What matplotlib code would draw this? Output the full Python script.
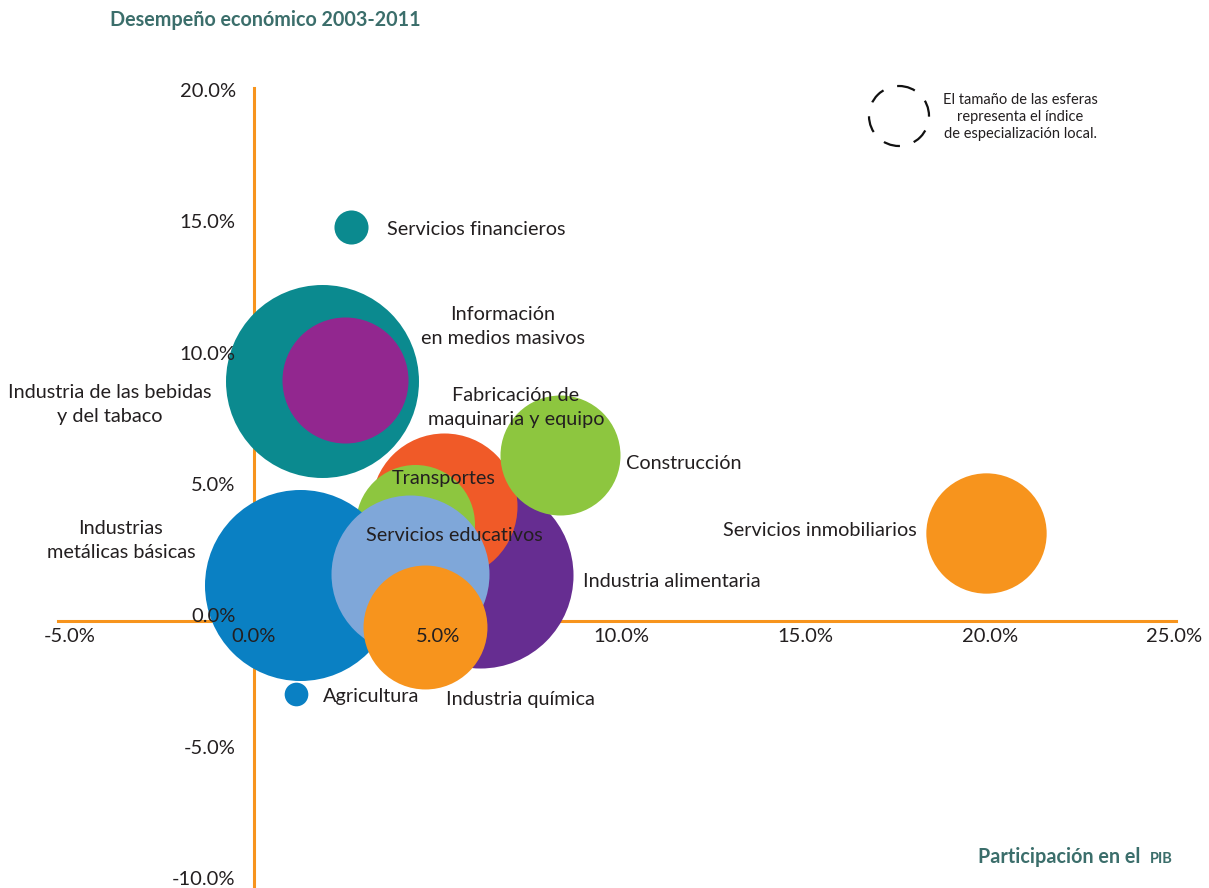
#!/usr/bin/env python3
"""
Bubble chart: desempeño económico 2003-2011 vs participación en el PIB.

Writes:
    out.png
"""

import matplotlib
matplotlib.use("Agg")
import matplotlib.pyplot as plt
from matplotlib.patches import Circle
from matplotlib.transforms import ScaledTranslation


sectores = [
    "Industria de las bebidas\ny del tabaco",
    "Información\nen medios masivos",
    "Servicios financieros",
    "Industria alimentaria",
    "Fabricación de\nmaquinaria y equipo",
    "Construcción",
    "Transportes",
    "Industrias\nmetálicas básicas",
    "Servicios educativos",
    "Industria química",
    "Agricultura",
    "Servicios inmobiliarios",
]

# participación en el PIB (%)
participacion = [1.85, 2.47, 2.65, 6.14, 5.16, 8.33, 4.38, 1.26, 4.25, 4.66, 1.15, 19.89]
# desempeño económico 2003-2011 (%)
desempeno = [9.01, 9.06, 14.79, 1.72, 4.31, 6.22, 3.65, 1.37, 1.77, -0.21, -2.73, 3.30]
# índice de especialización local (tamaño de la esfera)
indice = [9.31, 3.97, 0.29, 8.65, 5.33, 3.60, 3.54, 9.12, 6.24, 3.84, 0.14, 3.62]

colores = [
    "#0B8A8F", "#92278F", "#0B8A8F", "#662D91", "#F05A28", "#8DC63F",
    "#8DC63F", "#0A80C3", "#7FA7D9", "#F7941D", "#0A80C3", "#F7941D",
]

x_ticks = [-5, 0, 5, 10, 15, 20, 25]
y_ticks = [-10, -5, 0, 5, 10, 15, 20]

FONT = "Lato"
TEXT_COLOR = "#231F20"
TITLE_COLOR = "#3B6E6B"
AXIS_COLOR = "#F7941D"

DPI = 100
SIZE_SCALE = 2074  # points^2 per unit of índice


def main() -> None:
    plt.rcParams["font.family"] = [FONT, "DejaVu Sans"]

    fig = plt.figure(figsize=(12.09, 8.88), dpi=DPI)
    ax = fig.add_axes([58 / 1209, 0.0, 1118 / 1209, 800 / 888])
    ax.set_xlim(-5.32, 25.06)
    ax.set_ylim(-9.96, 20.0)

    sizes = [v * SIZE_SCALE for v in indice]
    for i, (x, y, s, c) in enumerate(zip(participacion, desempeno, sizes, colores)):
        ax.scatter([x], [y], s=s, color=c, linewidths=0, zorder=3 + i * 0.01)

    # draw order: educativos and química sit on top of the cluster
    order_fix = {"Servicios educativos": 3.5, "Industria química": 3.6}
    for coll, name in zip(ax.collections, sectores):
        if name in order_fix:
            coll.set_zorder(order_fix[name])

    for side in ["top", "right"]:
        ax.spines[side].set_visible(False)
    ax.spines["left"].set_position(("data", 0))
    ax.spines["bottom"].set_position(("data", 0))
    for side in ["left", "bottom"]:
        ax.spines[side].set_color(AXIS_COLOR)
        ax.spines[side].set_linewidth(2.2)
        ax.spines[side].set_zorder(0.5)

    ax.set_xticks(x_ticks)
    ax.set_yticks(y_ticks)
    ax.set_xticklabels([f"{v:.1f}%" for v in x_ticks])
    ax.set_yticklabels([f"{v:.1f}%" for v in y_ticks])
    ax.tick_params(axis="both", length=0, labelsize=14.5, colors=TEXT_COLOR)
    ax.tick_params(axis="x", pad=5)
    ax.tick_params(axis="y", pad=13)
    ax.xaxis.set_zorder(5)
    ax.yaxis.set_zorder(5)
    ax.patch.set_visible(False)

    # the y labels in the original drift upward a little toward the bottom
    for v, lab in zip(y_ticks, ax.get_yticklabels()):
        dy_px = -2 + (20 - v) / 30 * 12
        lab.set_transform(lab.get_transform()
                          + ScaledTranslation(0, dy_px / DPI, fig.dpi_scale_trans))

    # bubble labels (offsets in points from each bubble centre)
    label_style = {
        "Industria de las bebidas\ny del tabaco": ((-153, -17), "center"),
        "Información\nen medios masivos": ((114, 38), "center"),
        "Servicios financieros": ((26, -2), "left"),
        "Industria alimentaria": ((74, -4), "left"),
        "Fabricación de\nmaquinaria y equipo": ((52, 71), "center"),
        "Construcción": ((47, -6), "left"),
        "Transportes": ((21, 33), "center"),
        "Industrias\nmetálicas básicas": ((-129, 32), "center"),
        "Servicios educativos": ((32, 28), "center"),
        "Industria química": ((15, -52), "left"),
        "Agricultura": ((19, -2), "left"),
        "Servicios inmobiliarios": ((-50, 2), "right"),
    }
    for name, x, y in zip(sectores, participacion, desempeno):
        (dx, dy), ha = label_style[name]
        ax.annotate(
            name, (x, y), xytext=(dx, dy), textcoords="offset points",
            ha=ha, va="center", multialignment="center",
            fontsize=14.3, color=TEXT_COLOR, linespacing=1.5, zorder=10,
        )

    fig.text(110 / 1209, 1 - 20 / 888, "Desempeño económico 2003-2011",
             ha="left", va="center", fontsize=14.2, fontweight="bold",
             color=TITLE_COLOR)
    fig.text(1140 / 1209, 1 - 857 / 888, "Participación en el",
             ha="right", va="center", fontsize=14.2, fontweight="bold",
             color=TITLE_COLOR)
    fig.text(1173 / 1209, 1 - 859 / 888, "PIB",
             ha="right", va="center", fontsize=10.5, fontweight="bold",
             color=TITLE_COLOR)

    # legend: dashed circle + note
    legend_ax = fig.add_axes([0, 0, 1, 1])
    legend_ax.set_xlim(0, 1209)
    legend_ax.set_ylim(888, 0)
    legend_ax.axis("off")
    legend_ax.add_patch(Circle((899, 116), 30, fill=False, edgecolor="#111111",
                               linewidth=1.6, linestyle=(0, (7.5, 6.5))))
    legend_ax.text(1020, 117,
                   "El tamaño de las esferas\nrepresenta el índice\nde especialización local.",
                   ha="center", va="center", fontsize=10.5, color=TEXT_COLOR,
                   linespacing=1.3)

    fig.savefig("out.png", dpi=DPI)
    plt.close(fig)


if __name__ == "__main__":
    main()
